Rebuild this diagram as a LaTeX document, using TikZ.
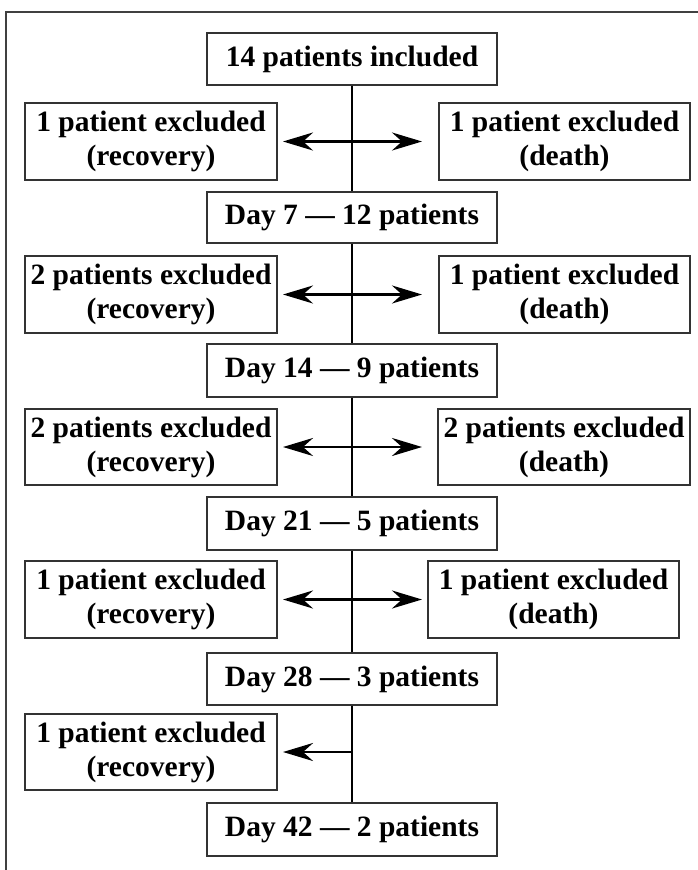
\documentclass[tikz,border=0pt]{standalone}
\usepackage{fontspec}
\setmainfont{Liberation Serif}
\usetikzlibrary{arrows.meta}
\begin{document}
\begin{tikzpicture}[x=1pt,y=-1pt,
  box/.style={draw=black!80,line width=1.2pt,align=center,inner sep=0pt,
    font=\fontsize{29.5}{34}\selectfont\bfseries,minimum height=#1},
  box/.default=52pt,
  daybox/.style={box=52pt,minimum width=290pt},
  sidebox/.style={box=77pt,minimum width=252pt},
  flow/.style={line width=2.8pt,black},
  arr/.style={flow,-{Stealth[length=30pt,width=18pt,inset=10pt]}},
  frame/.style={draw=black!75,line width=1.2pt}
]
\useasboundingbox (0,0) rectangle (698,870);
\draw[frame] (6,870) -- (6,12) -- (698,12);

\node[daybox] (n0) at (352,59) {14 patients included};
\node[sidebox] (r1) at (151,141.5) {1 patient excluded\\(recovery)};
\node[sidebox,minimum width=251pt] (d1) at (564.5,141.5) {1 patient excluded\\(death)};
\node[daybox,minimum height=51pt] (day7) at (352,217.5) {Day 7 --- 12 patients};
\node[sidebox] (r2) at (151,294.5) {2 patients excluded\\(recovery)};
\node[sidebox,minimum width=251pt] (d2) at (564.5,294.5) {1 patient excluded\\(death)};
\node[daybox,minimum height=53pt] (day14) at (352,370.5) {Day 14 --- 9 patients};
\node[sidebox,minimum height=76pt] (r3) at (151,447) {2 patients excluded\\(recovery)};
\node[sidebox,minimum width=252pt,minimum height=76pt] (d3) at (564,447) {2 patients excluded\\(death)};
\node[daybox,minimum height=53pt] (day21) at (352,523.5) {Day 21 --- 5 patients};
\node[sidebox] (r4) at (151,599.5) {1 patient excluded\\(recovery)};
\node[sidebox,minimum width=251pt] (d4) at (553.5,599.5) {1 patient excluded\\(death)};
\node[daybox] (day28) at (352,679) {Day 28 --- 3 patients};
\node[sidebox,minimum height=76pt] (r5) at (151,752) {1 patient excluded\\(recovery)};
\node[daybox,minimum height=53pt] (day42) at (352,829.5) {Day 42 --- 2 patients};

% main line segments
\draw[flow] (n0.south) -- (day7.north);
\draw[flow] (day7.south) -- (day14.north);
\draw[flow] (day14.south) -- (day21.north);
\draw[flow] (day21.south) -- (day28.north);
\draw[flow] (day28.south) -- (day42.north);

% junctions and arrow tips
\foreach \i/\y in {1/141.5,2/294.5,3/447,4/599.5,5/752}{
  \coordinate (j\i) at (352,\y);
  \coordinate (tl\i) at (283,\y);
  \coordinate (tr\i) at (422,\y);
}
\draw[arr] (j1) -- (tl1);
\draw[arr] (j1) -- (tr1);
\draw[arr] (j2) -- (tl2);
\draw[arr] (j2) -- (tr2);
\draw[arr] (j3) -- (tl3);
\draw[arr] (j3) -- (tr3);
\draw[arr] (j4) -- (tl4);
\draw[arr] (j4) -- (tr4);
\draw[arr] (j5) -- (tl5);
\end{tikzpicture}
\end{document}
